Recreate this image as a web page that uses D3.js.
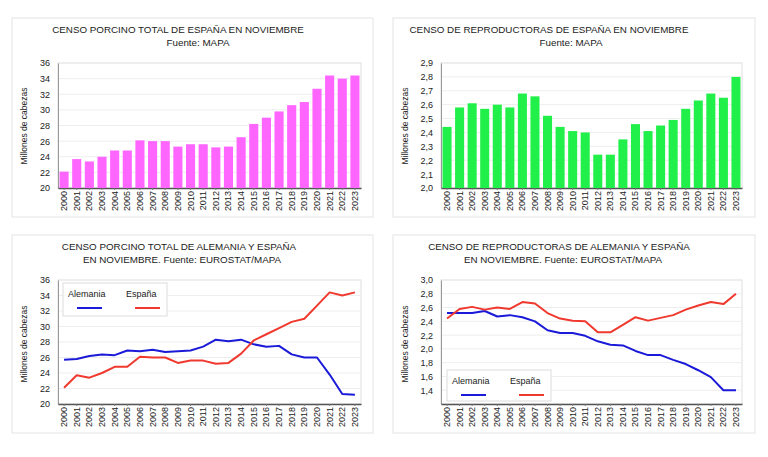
<!DOCTYPE html>
<html>
<head>
<meta charset="utf-8">
<script src="https://cdn.jsdelivr.net/npm/d3@7"></script>
<style>
  body { margin: 0; background: #fff; }
  svg { display: block; font-family: "Liberation Sans", Arial, sans-serif; }
</style>
</head>
<body>
<svg id="chart" width="768" height="457"></svg>
<script>
// Years shared by all four panels
var years = ["2000","2001","2002","2003","2004","2005","2006","2007","2008","2009","2010","2011",
             "2012","2013","2014","2015","2016","2017","2018","2019","2020","2021","2022","2023"];

// Total pig census, millions of heads
var espanaTotal   = [22.1,23.7,23.4,24.0,24.8,24.8,26.1,26.0,26.0,25.3,25.6,25.6,
                     25.2,25.3,26.5,28.2,29.0,29.8,30.6,31.0,32.7,34.4,34.0,34.4];
var alemaniaTotal = [25.7,25.8,26.2,26.4,26.3,26.9,26.8,27.0,26.7,26.8,26.9,27.4,
                     28.3,28.1,28.3,27.7,27.4,27.5,26.4,26.0,26.0,23.8,21.3,21.2];

// Breeding sows, millions of heads
var espanaRepro   = [2.44,2.58,2.61,2.57,2.60,2.58,2.68,2.66,2.52,2.44,2.41,2.40,
                     2.24,2.24,2.35,2.46,2.41,2.45,2.49,2.57,2.63,2.68,2.65,2.80];
var alemaniaRepro = [2.52,2.52,2.52,2.55,2.47,2.49,2.46,2.40,2.27,2.23,2.23,2.19,
                     2.11,2.06,2.05,1.97,1.91,1.91,1.84,1.78,1.69,1.59,1.40,1.40];

var ticksTotal = [20,22,24,26,28,30,32,34,36];
var ticksRepro = [2.0,2.1,2.2,2.3,2.4,2.5,2.6,2.7,2.8,2.9];
var ticksRepro2 = [1.4,1.6,1.8,2.0,2.2,2.4,2.6,2.8,3.0];

var svg = d3.select("#chart");
var fmtInt = d3.format("d");
var fmtDec = function(v) { return d3.format(".1f")(v).replace(".", ","); };

function drawFrame(cfg) {
    // panel box
    svg.append("rect")
        .attr("x", cfg.box[0]).attr("y", cfg.box[1])
        .attr("width", cfg.box[2]).attr("height", cfg.box[3])
        .attr("fill", "#fff").attr("stroke", "#e4e4e4");

    // titles
    cfg.titles.forEach(function(t) {
        svg.append("text")
            .attr("x", t[1]).attr("y", t[2])
            .attr("text-anchor", "middle")
            .style("font-size", "9.8px").style("fill", "#222")
            .text(t[0]);
    });

    var p = cfg.plot;
    var x = d3.scaleBand().domain(years).range([p[0], p[1]]).paddingInner(0.28).paddingOuter(0.12);
    var y = d3.scaleLinear().domain(cfg.domain).range([p[3], p[2]]);

    // plot border
    svg.append("rect")
        .attr("x", p[0]).attr("y", p[2])
        .attr("width", p[1] - p[0]).attr("height", p[3] - p[2])
        .attr("fill", "none").attr("stroke", "#dedede");

    // gridlines
    svg.append("g").selectAll("line")
        .data(cfg.ticks)
        .enter().append("line")
        .attr("x1", p[0]).attr("x2", p[1])
        .attr("y1", function(d) { return y(d); })
        .attr("y2", function(d) { return y(d); })
        .attr("stroke", "#eeeeee");

    // Y axis
    var gy = svg.append("g")
        .attr("transform", "translate(" + p[0] + ",0)")
        .call(d3.axisLeft(y).tickValues(cfg.ticks).tickFormat(cfg.fmt).tickSize(0).tickPadding(8));
    gy.select(".domain").attr("stroke", "#999");
    gy.selectAll("text").style("font-size", "9px").style("fill", "#222");

    // X axis
    var gx = svg.append("g")
        .attr("transform", "translate(0," + p[3] + ")")
        .call(d3.axisBottom(x).tickSize(2).tickSizeOuter(0));
    gx.select(".domain").attr("stroke", "#555").attr("stroke-width", 1.5);
    gx.selectAll(".tick line").attr("stroke", "#777");
    gx.selectAll("text")
        .attr("transform", "rotate(-90)")
        .attr("x", -3).attr("y", 0).attr("dy", "0.33em")
        .style("text-anchor", "end")
        .style("font-size", "9px").style("fill", "#222");

    // Y label
    svg.append("text")
        .attr("transform", "translate(" + cfg.ylab[0] + "," + cfg.ylab[1] + ")rotate(-90)")
        .attr("text-anchor", "middle")
        .style("font-size", "8.5px").style("fill", "#222")
        .text("Millones de cabezas");

    return {x: x, y: y};
}

function barChart(cfg) {
    var s = drawFrame(cfg);
    svg.append("g").selectAll("rect")
        .data(cfg.values)
        .enter().append("rect")
        .attr("x", function(d, i) { return s.x(years[i]); })
        .attr("y", function(d) { return s.y(d); })
        .attr("width", s.x.bandwidth())
        .attr("height", function(d) { return s.y(cfg.domain[0]) - s.y(d); })
        .attr("fill", cfg.color);
}

function lineChart(cfg) {
    var s = drawFrame(cfg);
    var line = d3.line()
        .x(function(d, i) { return s.x(years[i]) + s.x.bandwidth() / 2; })
        .y(function(d) { return s.y(d); });
    cfg.series.forEach(function(se) {
        svg.append("path")
            .datum(se.values)
            .attr("d", line)
            .attr("fill", "none")
            .attr("stroke", se.color)
            .attr("stroke-width", 2)
            .attr("stroke-linejoin", "round");
    });

    // legend
    var L = cfg.legend;
    svg.append("rect")
        .attr("x", L[0]).attr("y", L[1]).attr("width", L[2]).attr("height", L[3])
        .attr("fill", "#fff").attr("stroke", "#dcdcdc");
    cfg.series.forEach(function(se, i) {
        var lx = L[0] + 5 + i * 58;
        svg.append("text")
            .attr("x", lx).attr("y", L[1] + 14)
            .style("font-size", "9px").style("fill", "#222")
            .text(se.name);
        svg.append("line")
            .attr("x1", lx + 9).attr("x2", lx + 34)
            .attr("y1", L[1] + 25).attr("y2", L[1] + 25)
            .attr("stroke", se.color).attr("stroke-width", 2);
    });
}

barChart({
    box: [12, 18, 361, 199],
    plot: [58, 361, 63, 188],
    titles: [["CENSO PORCINO TOTAL DE ESPAÑA EN NOVIEMBRE", 178, 33], ["Fuente: MAPA", 198, 46]],
    domain: [20, 36], ticks: ticksTotal, fmt: fmtInt,
    ylab: [27, 126],
    values: espanaTotal, color: "#ff66ff"
});

barChart({
    box: [393, 18, 362, 199],
    plot: [441, 742, 63, 188],
    titles: [["CENSO DE REPRODUCTORAS DE ESPAÑA EN NOVIEMBRE", 549, 33], ["Fuente: MAPA", 571, 46]],
    domain: [2.0, 2.9], ticks: ticksRepro, fmt: fmtDec,
    ylab: [408, 126],
    values: espanaRepro, color: "#22f04a"
});

lineChart({
    box: [12, 235, 361, 198],
    plot: [58, 361, 280, 404],
    titles: [["CENSO PORCINO TOTAL DE ALEMANIA Y ESPAÑA", 179, 250], ["EN NOVIEMBRE. Fuente: EUROSTAT/MAPA", 182, 263]],
    domain: [20, 36], ticks: ticksTotal, fmt: fmtInt,
    ylab: [27, 344],
    legend: [63, 283, 104, 33],
    series: [{name: "Alemania", values: alemaniaTotal, color: "#1a1ad8"},
             {name: "España", values: espanaTotal, color: "#f0392e"}]
});

lineChart({
    box: [393, 235, 362, 198],
    plot: [441, 742, 280, 404],
    titles: [["CENSO DE REPRODUCTORAS DE ALEMANIA Y ESPAÑA", 559, 250], ["EN NOVIEMBRE. Fuente: EUROSTAT/MAPA", 563, 263]],
    domain: [1.2, 3.0], ticks: ticksRepro2, fmt: fmtDec,
    ylab: [408, 344],
    legend: [447, 370, 104, 31],
    series: [{name: "Alemania", values: alemaniaRepro, color: "#1a1ad8"},
             {name: "España", values: espanaRepro, color: "#f0392e"}]
});
</script>
</body>
</html>
